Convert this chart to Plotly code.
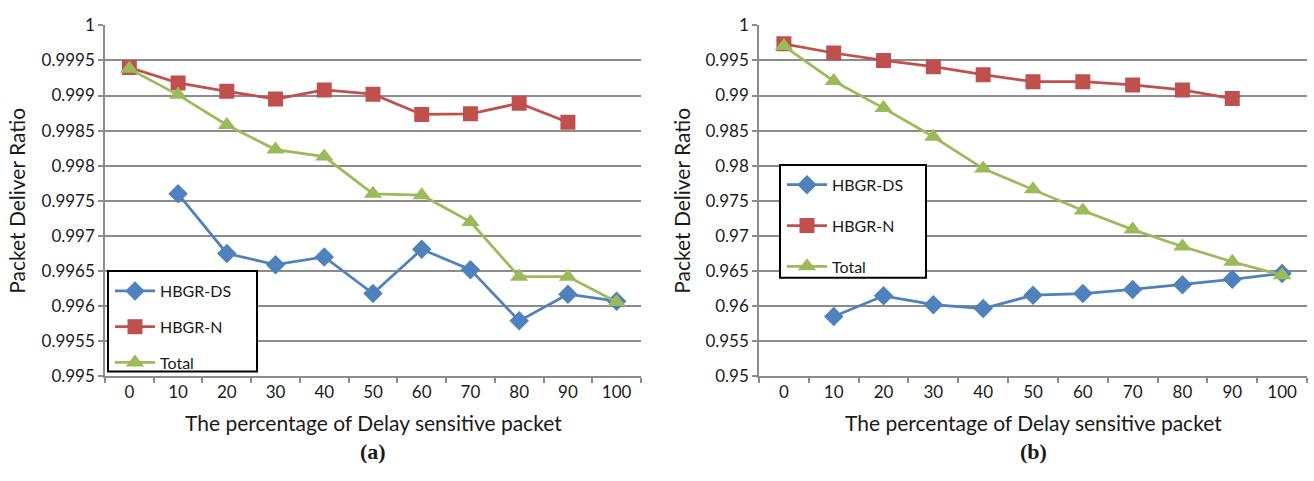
import plotly.graph_objects as go

# ---------------- data ----------------
categories = ["0", "10", "20", "30", "40", "50", "60", "70", "80", "90", "100"]

a_ds = [None, 0.99760, 0.99675, 0.99659, 0.99670, 0.99618, 0.99681, 0.99652, 0.99579, 0.99617, 0.99607]
a_n = [0.99940, 0.99918, 0.99906, 0.99895, 0.99908, 0.99902, 0.99873, 0.99874, 0.99889, 0.99862, None]
a_total = [0.99938, 0.99901, 0.99858, 0.99823, 0.99813, 0.99760, 0.99758, 0.99720, 0.99642, 0.99642, 0.99606]

b_ds = [None, 0.95852, 0.96147, 0.96020, 0.95965, 0.96156, 0.96179, 0.96237, 0.96305, 0.96382, 0.96464]
b_n = [0.99737, 0.99606, 0.99501, 0.99411, 0.99297, 0.99198, 0.99198, 0.99152, 0.99080, 0.98957, None]
b_total = [0.99705, 0.99207, 0.98821, 0.98413, 0.97960, 0.97665, 0.97362, 0.97090, 0.96850, 0.96632, 0.96441]

a_tickvals = [0.995, 0.9955, 0.996, 0.9965, 0.997, 0.9975, 0.998, 0.9985, 0.999, 0.9995, 1.0]
a_ticktext = ["0.995", "0.9955", "0.996", "0.9965", "0.997", "0.9975", "0.998", "0.9985", "0.999", "0.9995", "1"]
b_tickvals = [0.95, 0.955, 0.96, 0.965, 0.97, 0.975, 0.98, 0.985, 0.99, 0.995, 1.0]
b_ticktext = ["0.95", "0.955", "0.96", "0.965", "0.97", "0.975", "0.98", "0.985", "0.99", "0.995", "1"]

series_names = ["HBGR-DS", "HBGR-N", "Total"]
x_title = "The percentage of Delay sensitive packet"
y_title = "Packet Deliver Ratio"
panel_labels = ["(a)", "(b)"]

# ---------------- style ----------------
W, H = 1314, 481
BLUE, RED, GREEN = "#4F81BD", "#C0504D", "#9BBB59"
GRID = "#8C8C8C"
FONT = "Lato"
TXT = "#1a1a1a"
colors = [BLUE, RED, GREEN]
symbols = ["diamond", "square", "triangle-up"]
msizes = [15, 15, 16]

def px_x(p):
    return p / W

def px_y(p):
    return 1 - p / H

xa_dom = [px_x(105), px_x(641)]
xb_dom = [px_x(759), px_x(1307)]
y_dom = [px_y(382), px_y(15)]

fig = go.Figure()

for i, (vals, name) in enumerate(zip([a_ds, a_n, a_total], series_names)):
    fig.add_trace(go.Scatter(
        x=categories, y=vals, name=name, mode="lines+markers",
        line=dict(color=colors[i], width=2.75),
        marker=dict(symbol=symbols[i], size=msizes[i], color=colors[i]),
        xaxis="x", yaxis="y", legend="legend", legendgroup="a" + str(i),
        connectgaps=False,
    ))
for i, (vals, name) in enumerate(zip([b_ds, b_n, b_total], series_names)):
    fig.add_trace(go.Scatter(
        x=categories, y=vals, name=name, mode="lines+markers",
        line=dict(color=colors[i], width=2.75),
        marker=dict(symbol=symbols[i], size=msizes[i], color=colors[i]),
        xaxis="x2", yaxis="y2", legend="legend2", legendgroup="b" + str(i),
        connectgaps=False,
    ))

xcommon = dict(
    type="category", range=[-0.5, 10.5], tickson="boundaries",
    ticks="outside", ticklen=5, tickcolor=GRID, tickwidth=1.5,
    showline=True, linecolor=GRID, linewidth=1.5, showgrid=False,
    tickfont=dict(family=FONT, size=17, color=TXT), zeroline=False,
)
ycommon = dict(
    ticks="outside", ticklen=5, tickcolor=GRID, tickwidth=1.5,
    showline=True, linecolor=GRID, linewidth=1.5,
    showgrid=True, gridcolor=GRID, gridwidth=1.5, zeroline=False,
    tickfont=dict(family=FONT, size=17, color=TXT),
)

legcommon = dict(
    bgcolor="rgba(0,0,0,0)", borderwidth=0, xanchor="left", yanchor="top",
    font=dict(family=FONT, size=16, color=TXT), itemwidth=40,
)

fig.update_layout(
    width=W, height=H, autosize=False,
    margin=dict(l=0, r=0, t=0, b=0),
    paper_bgcolor="white", plot_bgcolor="white",
    showlegend=True,
    xaxis=dict(domain=xa_dom, anchor="y", **xcommon),
    yaxis=dict(domain=y_dom, anchor="x", range=[0.995, 1.0],
               tickvals=a_tickvals, ticktext=a_ticktext, **ycommon),
    xaxis2=dict(domain=xb_dom, anchor="y2", **xcommon),
    yaxis2=dict(domain=y_dom, anchor="x2", range=[0.95, 1.0],
                tickvals=b_tickvals, ticktext=b_ticktext, **ycommon),
    legend=dict(x=px_x(110), y=px_y(275), tracegroupgap=12, **legcommon),
    legend2=dict(x=px_x(782), y=px_y(164), tracegroupgap=17, **legcommon),
    shapes=[
        dict(type="rect", xref="paper", yref="paper", layer="above",
             x0=px_x(108), x1=px_x(257), y0=px_y(377), y1=px_y(272),
             line=dict(color="black", width=2), fillcolor="white"),
        dict(type="rect", xref="paper", yref="paper", layer="above",
             x0=px_x(780), x1=px_x(926), y0=px_y(279), y1=px_y(161),
             line=dict(color="black", width=2), fillcolor="white"),
    ],
)

ann = []
for dom, cx_title, lab in [(xa_dom, 17, panel_labels[0]), (xb_dom, 682, panel_labels[1])]:
    cx = (dom[0] + dom[1]) / 2
    ann.append(dict(text=x_title, xref="paper", yref="paper", x=cx, y=px_y(430),
                    xanchor="center", yanchor="middle", showarrow=False,
                    font=dict(family=FONT, size=21, color=TXT)))
    ann.append(dict(text="<b>" + lab + "</b>", xref="paper", yref="paper", x=cx, y=px_y(461),
                    xanchor="center", yanchor="middle", showarrow=False,
                    font=dict(family="Liberation Serif", size=22, color=TXT)))
    ann.append(dict(text=y_title, xref="paper", yref="paper", x=px_x(cx_title),
                    y=(y_dom[0] + y_dom[1]) / 2, textangle=-90,
                    xanchor="center", yanchor="middle", showarrow=False,
                    font=dict(family=FONT, size=21, color=TXT)))
fig.update_layout(annotations=ann)

fig.write_html("out.html")
